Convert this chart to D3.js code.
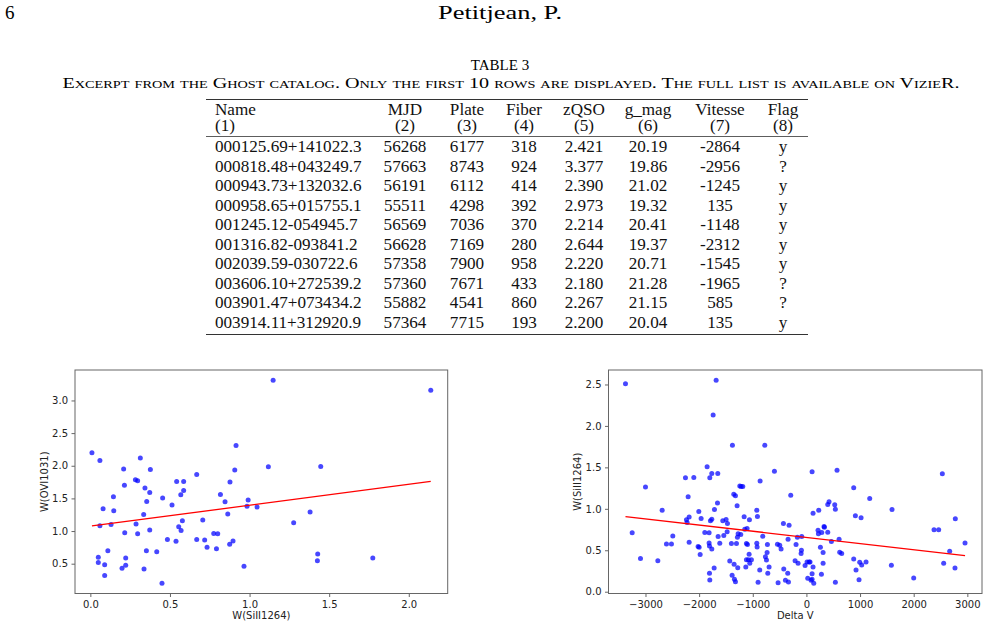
<!DOCTYPE html>
<html>
<head>
<meta charset="utf-8">
<script src="https://cdn.jsdelivr.net/npm/d3@7"></script>
<style>
  body { margin: 0; background: #fff; }
  svg { display: block; }
</style>
</head>
<body>
<svg id="page" width="1000" height="637"></svg>
<script>
// ---- table 3 ----
var tableHead = ['Name', 'MJD', 'Plate', 'Fiber', 'zQSO', 'g_mag', 'Vitesse', 'Flag'];
var tableNums = ['(1)', '(2)', '(3)', '(4)', '(5)', '(6)', '(7)', '(8)'];
var names = ['000125.69+141022.3', '000818.48+043249.7', '000943.73+132032.6', '000958.65+015755.1',
  '001245.12-054945.7', '001316.82-093841.2', '002039.59-030722.6', '003606.10+272539.2',
  '003901.47+073434.2', '003914.11+312920.9'];
var mjd = [56268, 57663, 56191, 55511, 56569, 56628, 57358, 57360, 55882, 57364];
var plate = [6177, 8743, 6112, 4298, 7036, 7169, 7900, 7671, 4541, 7715];
var fiber = [318, 924, 414, 392, 370, 280, 958, 433, 860, 193];
var zqso = ['2.421', '3.377', '2.390', '2.973', '2.214', '2.644', '2.220', '2.180', '2.267', '2.200'];
var gmag = ['20.19', '19.86', '21.02', '19.32', '20.41', '19.37', '20.71', '21.28', '21.15', '20.04'];
var vitesse = [-2864, -2956, -1245, 135, -1148, -2312, -1545, -1965, 585, 135];
var flag = ['y', '?', 'y', 'y', 'y', 'y', 'y', '?', '?', 'y'];

// ---- left panel: W(SiII1264) vs W(OVI1031) ----
var siW = [0.01, 0.06, 0.05, 0.05, 0.06, 0.08, 0.09, 0.09, 0.11, 0.13, 0.145, 0.147, 0.209, 0.214, 0.216,
  0.199, 0.222, 0.222, 0.283, 0.297, 0.287, 0.297, 0.314, 0.335, 0.343, 0.354, 0.337, 0.352, 0.373, 0.377,
  0.373, 0.417, 0.454, 0.45, 0.484, 0.513, 0.538, 0.542, 0.555, 0.57, 0.568, 0.578, 0.586, 0.586, 0.668,
  0.668, 0.706, 0.718, 0.733, 0.775, 0.792, 0.80, 0.817, 0.846, 0.863, 0.875, 0.877, 0.896, 0.907, 0.915,
  0.965, 0.984, 0.991, 1.047, 1.118, 1.148, 1.277, 1.38, 1.428, 1.426, 1.447, 1.774, 2.138];
var oviW = [2.20, 2.08, 0.60, 0.52, 1.08, 1.34, 0.485, 0.32, 0.70, 1.10, 1.525, 1.31, 1.95, 1.70, 0.975,
  0.43, 0.475, 0.587, 1.786, 1.77, 1.107, 0.96, 2.117, 1.255, 1.658, 1.454, 0.418, 0.70, 1.59, 1.944,
  1.015, 0.684, 1.505, 0.199, 0.872, 1.40, 0.842, 1.76, 1.066, 1.01, 1.556, 1.158, 1.76, 1.622, 1.867,
  0.872, 1.168, 0.862, 0.75, 0.964, 0.73, 0.96, 1.56, 1.449, 1.26, 0.796, 1.75, 0.847, 1.934, 2.311,
  0.459, 1.378, 1.474, 1.367, 1.985, 3.311, 1.128, 1.29, 0.648, 0.546, 1.99, 0.587, 3.158];
var leftFit = { a: 1.075, b: 0.32 };

// ---- right panel: Delta V vs W(SiII1264) ----
var deltaV = [-3373, -3248, -3093, -3000, -2770, -2689, -2609, -2516, -2491, -2255, -2236, -2224, -2205,
  -2186, -2186, -2099, -2006, -2019, -2000, -1981, -1963, -1894, -1851, -1814, -1801, -1814, -1807, -1807,
  -1801, -1789, -1764, -1764, -1764, -1739, -1720, -1714, -1683, -1658, -1652, -1646, -1615, -1559, -1540,
  -1497, -1478, -1472, -1398, -1429, -1385, -1379, -1354, -1348, -1342, -1323, -1323, -1304, -1292, -1286,
  -1280, -1273, -1242, -1217, -1186, -1224, -1161, -1149, -1130, -1118, -1106, -1118, -1099, -1081, -1068,
  -1062, -1056, -1025, -925, -925, -913, -919, -901, -870, -863, -814, -776, -764, -745, -733, -727, -720,
  -696, -596, -540, -528, -497, -472, -429, -422, -391, -348, -335, -342, -323, -292, -193, -211, -155,
  -168, -99, -93, -87, -25, 12, 50, 25, 68, 87, 106, 106, 106, 124, 124, 137, 230, 217, 224, 261, 280, 286,
  311, 311, 329, 335, 398, 398, 422, 466, 528, 540, 540, 571, 609, 621, 658, 882, 882, 913, 925, 981, 994,
  1019, 1031, 1112, 1180, 1584, 1596, 2000, 2379, 2466, 2534, 2559, 2671, 2776, 2770, 2957];
var siW2 = [2.508, 0.71, 0.40, 1.262, 0.375, 0.984, 0.577, 0.577, 0.673, 1.375, 0.867, 0.835, 1.145,
  0.90, 0.597, 1.379, 0.968, 0.544, 0.536, 0.448, 0.883, 0.714, 1.508, 0.71, 1.375, 0.589, 0.552, 0.222,
  0.141, 0.855, 0.875, 1.427, 0.516, 2.133, 0.286, 0.992, 2.552, 1.069, 1.427, 0.665, 0.585, 0.855, 0.677,
  0.871, 0.722, 0.823, 0.581, 0.371, 0.198, 1.766, 1.177, 0.331, 0.149, 1.157, 0.121, 0.581, 1.036, 0.657,
  0.29, 0.698, 1.274, 1.27, 1.27, 0.69, 0.903, 0.754, 0.298, 0.581, 0.762, 0.387, 0.569, 0.387, 0.452,
  0.867, 0.343, 0.387, 0.984, 0.585, 0.907, 0.54, 0.113, 0.262, 1.335, 0.669, 1.766, 0.423, 0.383, 0.472,
  0.569, 0.222, 0.298, 1.452, 0.573, 0.109, 0.56, 0.516, 0.823, 0.274, 0.137, 0.222, 0.117, 0.633, 0.802,
  1.165, 0.569, 0.375, 0.343, 0.657, 0.46, 0.50, 0.665, 0.315, 0.359, 0.359, 0.161, 0.359, 0.137, 1.448,
  0.149, 0.218, 0.948, 0.298, 0.101, 0.984, 0.742, 0.698, 0.536, 0.21, 0.714, 0.472, 0.343, 0.786, 0.778,
  0.718, 1.052, 1.085, 0.605, 1.048, 0.996, 0.113, 1.464, 0.633, 0.476, 0.46, 1.254, 0.395, 0.915, 0.262,
  0.145, 0.355, 0.891, 0.323, 0.359, 1.125, 0.319, 0.992, 0.165, 0.746, 0.746, 1.423, 0.343, 0.488, 0.879,
  0.286, 0.589];
var rightFit = { a: 0.655, b: -0.0000746 };

var leftXTicks = [0, 0.5, 1.0, 1.5, 2.0];
var leftYTicks = [0.5, 1.0, 1.5, 2.0, 2.5, 3.0];
var rightXTicks = [-3000, -2000, -1000, 0, 1000, 2000, 3000];
var rightYTicks = [0, 0.5, 1.0, 1.5, 2.0, 2.5];

var SERIF = '"Liberation Serif", "DejaVu Serif", serif';
var SANS = '"DejaVu Sans", sans-serif';

var svg = d3.select('#page');

// widen Times-like glyphs a bit so they take the room of the TeX fonts
function widen(sel, k) {
  sel.each(function () {
    var w = this.getComputedTextLength();
    d3.select(this).attr('textLength', w * k).attr('lengthAdjust', 'spacingAndGlyphs');
  });
}

// page header
svg.append('text').attr('x', 5).attr('y', 19)
  .style('font-family', SERIF).style('font-size', '19px').text('6');
svg.append('text').attr('x', 500).attr('y', 19).attr('text-anchor', 'middle')
  .attr('textLength', 124).attr('lengthAdjust', 'spacingAndGlyphs')
  .style('font-family', SERIF).style('font-size', '19px').text('Petitjean, P.');

svg.append('text').attr('x', 500).attr('y', 70).attr('text-anchor', 'middle')
  .style('font-family', SERIF).style('font-size', '15px').text('TABLE 3');
svg.append('text').attr('x', 511).attr('y', 88).attr('text-anchor', 'middle')
  .attr('textLength', 897).attr('lengthAdjust', 'spacingAndGlyphs')
  .style('font-family', SERIF).style('font-size', '15.5px').style('font-variant', 'small-caps')
  .text('Excerpt from the Ghost catalog. Only the first 10 rows are displayed. The full list is available on VizieR.');

// table
var colX = [215, 405, 467, 524, 584, 648, 720, 783];
var colAnchor = ['start', 'middle', 'middle', 'middle', 'middle', 'middle', 'middle', 'middle'];
var tbl = svg.append('g').style('font-family', SERIF).style('font-size', '16px').attr('fill', '#111');

tbl.append('line').attr('x1', 206).attr('x2', 808).attr('y1', 99.5).attr('y2', 99.5)
  .attr('stroke', '#333').attr('stroke-width', 1.2);
tbl.append('line').attr('x1', 206).attr('x2', 808).attr('y1', 136.5).attr('y2', 136.5)
  .attr('stroke', '#333').attr('stroke-width', 0.8);
tbl.append('line').attr('x1', 206).attr('x2', 808).attr('y1', 334.5).attr('y2', 334.5)
  .attr('stroke', '#333').attr('stroke-width', 1.2);

tbl.selectAll('text.head').data(tableHead).enter().append('text')
  .attr('class', 'head')
  .attr('x', (d, i) => colX[i]).attr('y', 115).attr('text-anchor', (d, i) => colAnchor[i])
  .text(d => d);
tbl.selectAll('text.num').data(tableNums).enter().append('text')
  .attr('class', 'num')
  .attr('x', (d, i) => colX[i]).attr('y', 131).attr('text-anchor', (d, i) => colAnchor[i])
  .text(d => d);

var rows = names.map((n, i) => [n, mjd[i], plate[i], fiber[i], zqso[i], gmag[i], vitesse[i], flag[i]]);
var rowY = d3.scaleLinear().domain([0, 9]).range([152, 327.5]);
tbl.selectAll('g.row').data(rows).enter().append('g')
  .attr('class', 'row')
  .attr('transform', (d, i) => `translate(0,${rowY(i)})`)
  .selectAll('text').data(d => d).enter().append('text')
  .attr('x', (d, i) => colX[i]).attr('text-anchor', (d, i) => colAnchor[i])
  .text(d => d);
widen(tbl.selectAll('text'), 1.07);

// scatter panels
function padded(vals) {
  var e = d3.extent(vals);
  var m = (e[1] - e[0]) * 0.05;
  return [e[0] - m, e[1] + m];
}

function panel(opt) {
  var x = d3.scaleLinear().domain(padded(opt.xs)).range([opt.x0, opt.x1]);
  var y = d3.scaleLinear().domain(padded(opt.ys)).range([opt.y1, opt.y0]);
  var g = svg.append('g');

  var xAxis = g.append('g').attr('transform', `translate(0,${opt.y1})`)
    .call(d3.axisBottom(x).tickValues(opt.xTicks).tickFormat(opt.xFmt)
      .tickSize(3.5).tickPadding(3.5));
  var yAxis = g.append('g').attr('transform', `translate(${opt.x0},0)`)
    .call(d3.axisLeft(y).tickValues(opt.yTicks).tickFormat(d3.format('.1f'))
      .tickSize(3.5).tickPadding(3.5));
  [xAxis, yAxis].forEach(a => {
    a.select('.domain').remove();
    a.selectAll('line').attr('stroke', '#555').attr('stroke-width', 0.9);
    a.selectAll('text').attr('fill', '#222')
      .style('font-family', SANS).style('font-size', '10px');
  });

  g.selectAll('circle').data(opt.xs).enter().append('circle')
    .attr('cx', d => x(d)).attr('cy', (d, i) => y(opt.ys[i]))
    .attr('r', 2.5).attr('fill', '#0000ff').attr('fill-opacity', 0.72);

  var xe = d3.extent(opt.xs);
  g.append('line')
    .attr('x1', x(xe[0])).attr('y1', y(opt.fit.a + opt.fit.b * xe[0]))
    .attr('x2', x(xe[1])).attr('y2', y(opt.fit.a + opt.fit.b * xe[1]))
    .attr('stroke', 'red').attr('stroke-width', 1.3);

  g.append('rect').attr('x', opt.x0).attr('y', opt.y0)
    .attr('width', opt.x1 - opt.x0).attr('height', opt.y1 - opt.y0)
    .attr('fill', 'none').attr('stroke', '#666').attr('stroke-width', 1);

  g.append('text').attr('x', (opt.x0 + opt.x1) / 2).attr('y', 619).attr('text-anchor', 'middle')
    .style('font-family', SANS).style('font-size', '10px').attr('fill', '#222').text(opt.xLabel);
  g.append('text').attr('transform', `translate(${opt.yLabelX},${(opt.y0 + opt.y1) / 2})rotate(-90)`)
    .attr('text-anchor', 'middle')
    .style('font-family', SANS).style('font-size', '10px').attr('fill', '#222').text(opt.yLabel);
}

panel({
  xs: siW, ys: oviW, fit: leftFit,
  x0: 75, x1: 447.7, y0: 370, y1: 593.5,
  xTicks: leftXTicks, yTicks: leftYTicks, xFmt: d3.format('.1f'),
  xLabel: 'W(SiII1264)', yLabel: 'W(OVI1031)', yLabelX: 48
});
panel({
  xs: deltaV, ys: siW2, fit: rightFit,
  x0: 608.5, x1: 982, y0: 370, y1: 593.5,
  xTicks: rightXTicks, yTicks: rightYTicks, xFmt: d3.format('d'),
  xLabel: 'Delta V', yLabel: 'W(SiII1264)', yLabelX: 581
});
</script>
</body>
</html>
